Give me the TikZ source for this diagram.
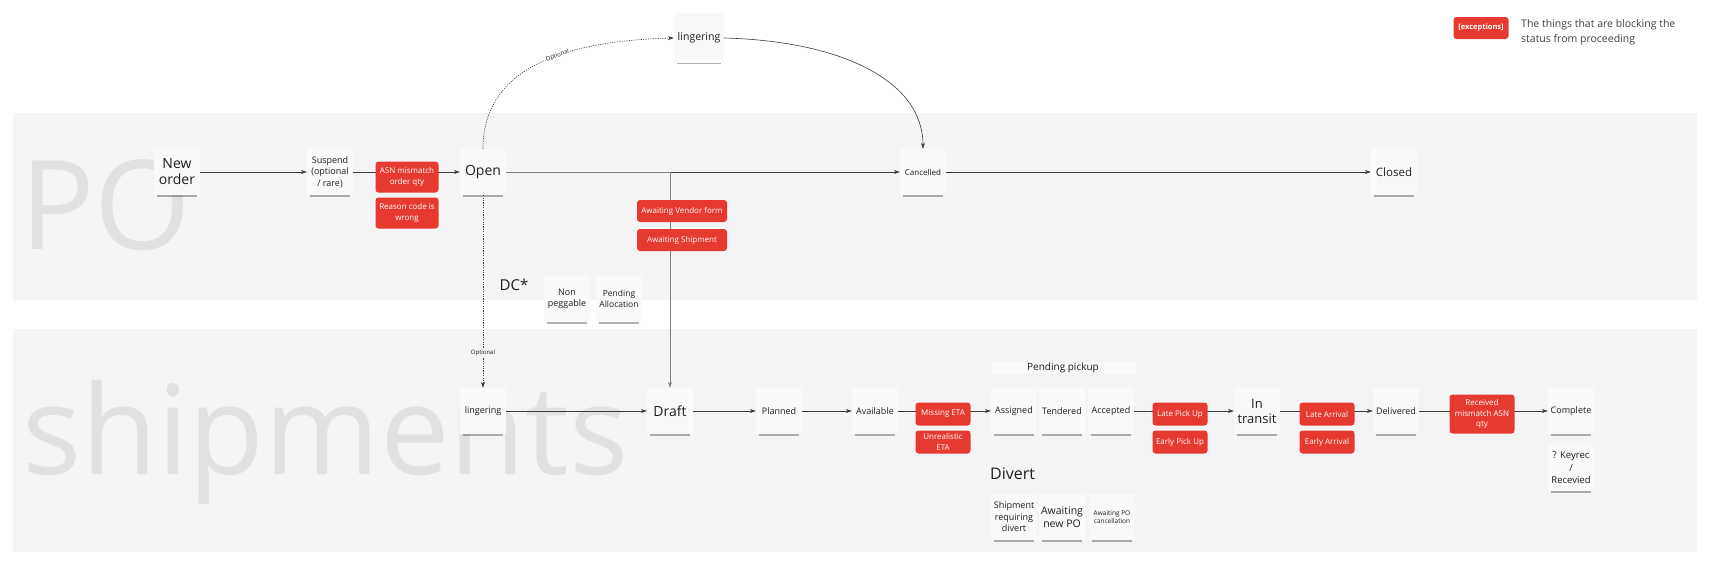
\documentclass[tikz,border=0pt]{standalone}
\usepackage{fontspec}
\setmainfont{Open Sans}
\usetikzlibrary{arrows.meta,shadows}

\definecolor{bandgray}{RGB}{244,244,244}
\definecolor{notefill}{RGB}{248,249,251}
\definecolor{blockred}{RGB}{230,58,48}
\definecolor{ghost}{RGB}{225,225,225}
\definecolor{linegray}{RGB}{60,60,60}
\definecolor{inkgray}{RGB}{30,30,30}

\begin{document}
\begin{tikzpicture}[x=1pt, y=-1pt,
  note/.style={fill=notefill, minimum width=46pt, minimum height=46pt, align=center,
    inner sep=1pt, text=inkgray, font=\fontsize{9}{11.5}\selectfont,
    drop shadow={shadow xshift=0pt, shadow yshift=-5pt, shadow scale=0.88, opacity=0.3, fill=black}},
  bignote/.style={note, font=\fontsize{14}{16}\selectfont},
  block/.style={fill=blockred, text=white, rounded corners=3pt, align=center,
    inner sep=1pt, minimum width=55pt, minimum height=23pt, font=\fontsize{8}{10.5}\selectfont},
  flow/.style={draw=linegray, line width=0.6pt, -{Stealth[length=6pt,width=4pt]}},
  opt/.style={flow, dash pattern=on 1.2pt off 1.2pt},
  optlabel/.style={font=\fontsize{6}{7}\selectfont, inner sep=0.8pt, text=inkgray},
  ghosttext/.style={text=ghost, inner sep=0pt, font=\fontsize{124}{124}\selectfont},
  heading/.style={text=inkgray, inner sep=0pt},
]
\useasboundingbox (0,0) rectangle (1726,574);

% Lanes
\fill[bandgray] (13,113) rectangle (1697,300);
\fill[bandgray] (13,329) rectangle (1697,552);
\node[ghosttext, anchor=base west] (potitle) at (20,249) {PO};
\node[ghosttext, anchor=base west] (shiptitle) at (22,474) {shipments};

% PO statuses
\node[bignote] (neworder) at (177,172) {New\\order};
\node[note] (suspend) at (330,172) {Suspend\\(optional\\/ rare)};
\node[bignote] (open) at (483,172) {Open};
\node[note, font=\fontsize{8}{10}\selectfont] (cancelled) at (923,172) {Cancelled};
\node[note, font=\fontsize{11.5}{13}\selectfont] (closed) at (1394,172) {Closed};
\node[note, minimum width=50pt, minimum height=50pt, font=\fontsize{10.5}{12}\selectfont] (lingertop) at (699,38) {lingering};

% DC
\node[heading, font=\fontsize{15}{17}\selectfont] (dc) at (514,285) {DC*};
\node[note] (nonpeg) at (567,299) {Non\\peggable};
\node[note, font=\fontsize{8.5}{10.5}\selectfont] (pendalloc) at (619,299) {Pending\\Allocation};

% Shipment statuses
\node[note] (lingerbot) at (483,411) {lingering};
\node[bignote] (draft) at (670,411) {Draft};
\node[note] (planned) at (779,411) {Planned};
\node[note] (available) at (875,411) {Available};
\node[note] (assigned) at (1014,411) {Assigned};
\node[note] (tendered) at (1062,411) {Tendered};
\node[note] (accepted) at (1111,411) {Accepted};
\node[bignote, font=\fontsize{13}{15}\selectfont] (intransit) at (1257,411) {In\\transit};
\node[note] (delivered) at (1396,411) {Delivered};
\node[note] (complete) at (1571,411) {Complete};
\node[note, font=\fontsize{9.5}{12.5}\selectfont] (keyrec) at (1571,468) {? Keyrec\\/\\Recevied};
\node[heading, fill=white!35!bandgray, minimum width=145pt, minimum height=12pt, font=\fontsize{10}{12}\selectfont] (pendpick) at (1063,368) {Pending pickup};

% Divert
\node[heading, anchor=west, font=\fontsize{16}{18}\selectfont] (divert) at (990,474) {Divert};
\node[note] (shipdivert) at (1014,517) {Shipment\\requiring\\divert};
\node[note, font=\fontsize{10.5}{13}\selectfont] (newpo) at (1062,517) {Awaiting\\new PO};
\node[note, font=\fontsize{6.5}{8.5}\selectfont] (pocancel) at (1112,517) {Awaiting PO\\cancellation};

% Flow
\draw[flow] (neworder) -- (suspend);
\draw[flow] (suspend) -- (open);
\draw[flow] (open) -- (cancelled);
\draw[flow] (cancelled) -- (closed);
\draw[flow, draw=gray] (open.east) -| (draft.north);
\draw[opt] (open.north) .. controls (483,70) and (560,41) .. node[optlabel, fill=white, sloped, pos=0.6] {Optional} (lingertop.west);
\draw[flow] (lingertop.east) .. controls (840,41) and (923,80) .. (cancelled.north);
\draw[opt] (open.south) -- node[optlabel, fill=bandgray, pos=0.82] {Optional} (lingerbot.north);
\draw[flow] (lingerbot) -- (draft);
\draw[flow] (draft) -- (planned);
\draw[flow] (planned) -- (available);
\draw[flow] (available) -- (assigned);
\draw[flow] (accepted) -- (intransit);
\draw[flow] (intransit) -- (delivered);
\draw[flow] (delivered) -- (complete);

% Exceptions
\node[block, minimum width=63pt, minimum height=31pt] (asn) at (407,177) {ASN mismatch\\order qty};
\node[block, minimum width=63pt, minimum height=31pt] (reason) at (407,213) {Reason code is\\wrong};
\node[block, minimum width=90pt, minimum height=22pt] (vendorform) at (682,211) {Awaiting Vendor form};
\node[block, minimum width=90pt, minimum height=22pt] (awaitship) at (682,240) {Awaiting Shipment};
\node[block] (missingeta) at (943,414) {Missing ETA};
\node[block] (unrealeta) at (943,442) {Unrealistic\\ETA};
\node[block] (latepick) at (1180,414) {Late Pick Up};
\node[block] (earlypick) at (1180,442) {Early Pick Up};
\node[block] (latearr) at (1327,414) {Late Arrival};
\node[block] (earlyarr) at (1327,442) {Early Arrival};
\node[block, minimum width=65pt, minimum height=39pt] (received) at (1482,414) {Received\\mismatch ASN\\qty};

% Legend
\node[block, minimum height=22pt, font=\fontsize{7.5}{9}\bfseries] (legendred) at (1481,28) {[exceptions]};
\node[heading, anchor=west, align=left, text=inkgray!85, font=\fontsize{10.5}{15}\selectfont] (legendtext) at (1521,32) {The things that are blocking the\\status from proceeding};

\end{tikzpicture}
\end{document}
